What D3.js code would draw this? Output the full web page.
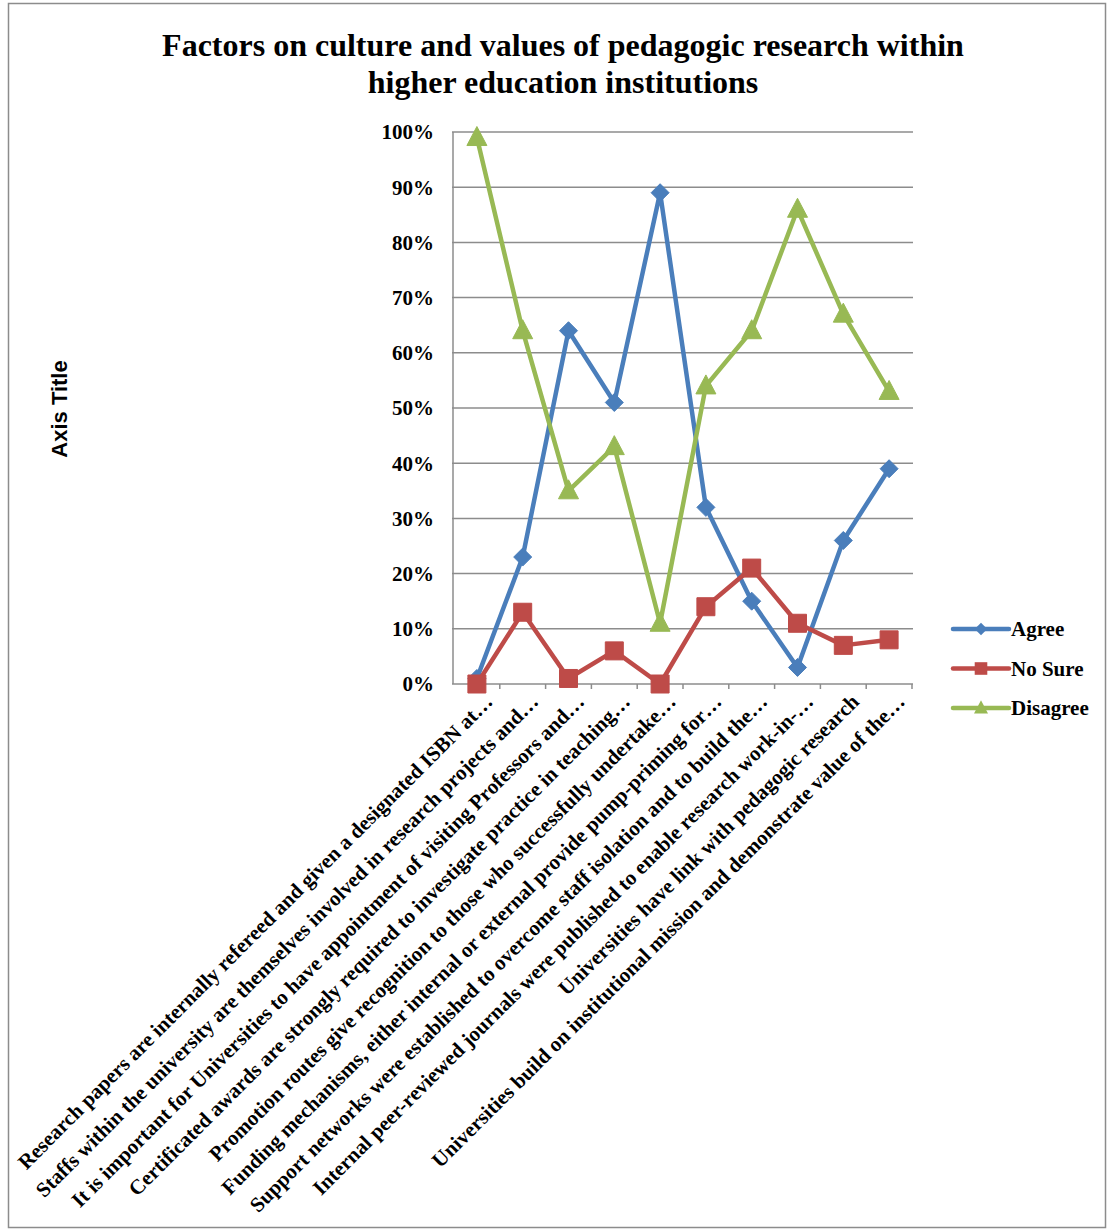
<!DOCTYPE html>
<html>
<head>
<meta charset="utf-8">
<script src="https://cdn.jsdelivr.net/npm/d3@7"></script>
<style>
  body { margin: 0; background: #fff; }
  svg text { font-family: "Liberation Serif", "Times New Roman", serif; font-weight: bold; }
</style>
</head>
<body>
<svg id="mainSvg" width="1109" height="1231"></svg>
<script>
var categories = [
  "Research papers are internally refereed and given a designated ISBN at…",
  "Staffs within the university are themselves involved in research projects and…",
  "It is important for Universities to have appointment of visiting Professors and…",
  "Certificated awards are strongly required to investigate practice in teaching…",
  "Promotion routes give recognition to those who successfully undertake…",
  "Funding mechanisms, either internal or external provide pump-priming for…",
  "Support networks were established to overcome staff isolation and to build the…",
  "Internal peer-reviewed journals were published to enable research work-in-…",
  "Universities have link with pedagogic research",
  "Universities build on institutional mission and demonstrate value of the…"
];
var agree    = [1, 23, 64, 51, 89, 32, 15, 3, 26, 39];
var noSure   = [0, 13, 1, 6, 0, 14, 21, 11, 7, 8];
var disagree = [99, 64, 35, 43, 11, 54, 64, 86, 67, 53];
var yTicks = [0, 10, 20, 30, 40, 50, 60, 70, 80, 90, 100];

var seriesList = [
  {name: "Agree", values: agree, color: "#4A7EBB", marker: "diamond"},
  {name: "No Sure", values: noSure, color: "#BE4B48", marker: "square"},
  {name: "Disagree", values: disagree, color: "#98B954", marker: "triangle"}
];

var svg = d3.select("#mainSvg");

// outer frame
svg.append("rect")
  .attr("x", 8.5).attr("y", 3.5)
  .attr("width", 1097).attr("height", 1224)
  .attr("fill", "none")
  .attr("stroke", "#8c8c8c")
  .attr("stroke-width", 1.5);

// title
svg.append("text")
  .attr("x", 563).attr("y", 56)
  .attr("text-anchor", "middle")
  .attr("font-size", "32px")
  .text("Factors on culture and values of pedagogic research within");
svg.append("text")
  .attr("x", 563).attr("y", 93)
  .attr("text-anchor", "middle")
  .attr("font-size", "32px")
  .text("higher education institutions");

var x = d3.scaleBand().domain(d3.range(categories.length)).range([454, 912]);
var y = d3.scaleLinear().domain([0, 100]).range([684, 132]);

// gridlines
svg.append("g").selectAll("line")
  .data(yTicks)
  .enter()
  .append("line")
  .attr("x1", 452).attr("x2", 913)
  .attr("y1", function(d){ return y(d); })
  .attr("y2", function(d){ return y(d); })
  .attr("stroke", "#8c8c8c")
  .attr("stroke-width", 1.5);

// y axis line
svg.append("line")
  .attr("x1", 453).attr("x2", 453)
  .attr("y1", y(100)).attr("y2", y(0))
  .attr("stroke", "#8c8c8c")
  .attr("stroke-width", 1.5);

// category tick marks
svg.append("g").selectAll("line")
  .data(d3.range(1, categories.length + 1))
  .enter()
  .append("line")
  .attr("x1", function(d){ return 454 + d * x.step(); })
  .attr("x2", function(d){ return 454 + d * x.step(); })
  .attr("y1", y(0)).attr("y2", y(0) + 5)
  .attr("stroke", "#8c8c8c")
  .attr("stroke-width", 1.5);

// y tick labels
svg.append("g").selectAll("text")
  .data(yTicks)
  .enter()
  .append("text")
  .attr("x", 434)
  .attr("y", function(d){ return y(d); })
  .attr("dy", "0.35em")
  .attr("text-anchor", "end")
  .attr("font-size", "21px")
  .text(function(d){ return d + "%"; });

// axis title
svg.append("text")
  .attr("transform", "translate(67,409) rotate(-90)")
  .attr("text-anchor", "middle")
  .attr("font-size", "22px")
  .style("font-family", "'Liberation Sans', Arial, sans-serif")
  .text("Axis Title");

// category labels
svg.append("g").selectAll("text")
  .data(categories)
  .enter()
  .append("text")
  .attr("transform", function(d, i){
    var cx = x(i) + x.bandwidth() / 2 + 17;
    return "translate(" + cx + ",703) rotate(-45)";
  })
  .attr("text-anchor", "end")
  .attr("font-size", "21px")
  .text(function(d){ return d; });

var line = d3.line()
  .x(function(d, i){ return x(i) + x.bandwidth() / 2; })
  .y(function(d){ return y(d); });

function markerPath(type){
  if (type == "diamond") return "M0,-9L9,0L0,9L-9,0Z";
  if (type == "square") return "M-9,-9H9V9H-9Z";
  return "M0,-11L10,8H-10Z";
}

seriesList.forEach(function(s){
  svg.append("path")
    .datum(s.values)
    .attr("d", line)
    .attr("fill", "none")
    .attr("stroke", s.color)
    .attr("stroke-width", 4.5)
    .attr("stroke-linejoin", "round");

  svg.append("g").selectAll("path")
    .data(s.values)
    .enter()
    .append("path")
    .attr("transform", function(d, i){
      return "translate(" + (x(i) + x.bandwidth() / 2) + "," + y(d) + ")";
    })
    .attr("d", markerPath(s.marker))
    .attr("fill", s.color)
    .attr("stroke", s.color)
    .attr("stroke-width", 1);
});

// legend
var legend = svg.append("g").selectAll("g")
  .data(seriesList)
  .enter()
  .append("g")
  .attr("transform", function(d, i){ return "translate(953," + (629 + i * 39.5) + ")"; });

legend.append("line")
  .attr("x1", 0).attr("x2", 56)
  .attr("stroke", function(d){ return d.color; })
  .attr("stroke-width", 4.5)
  .attr("stroke-linecap", "round");

legend.append("path")
  .attr("transform", "translate(28,0) scale(0.7)")
  .attr("d", function(d){ return markerPath(d.marker); })
  .attr("fill", function(d){ return d.color; });

legend.append("text")
  .attr("x", 58)
  .attr("dy", "0.35em")
  .attr("font-size", "21px")
  .text(function(d){ return d.name; });
</script>
</body>
</html>
